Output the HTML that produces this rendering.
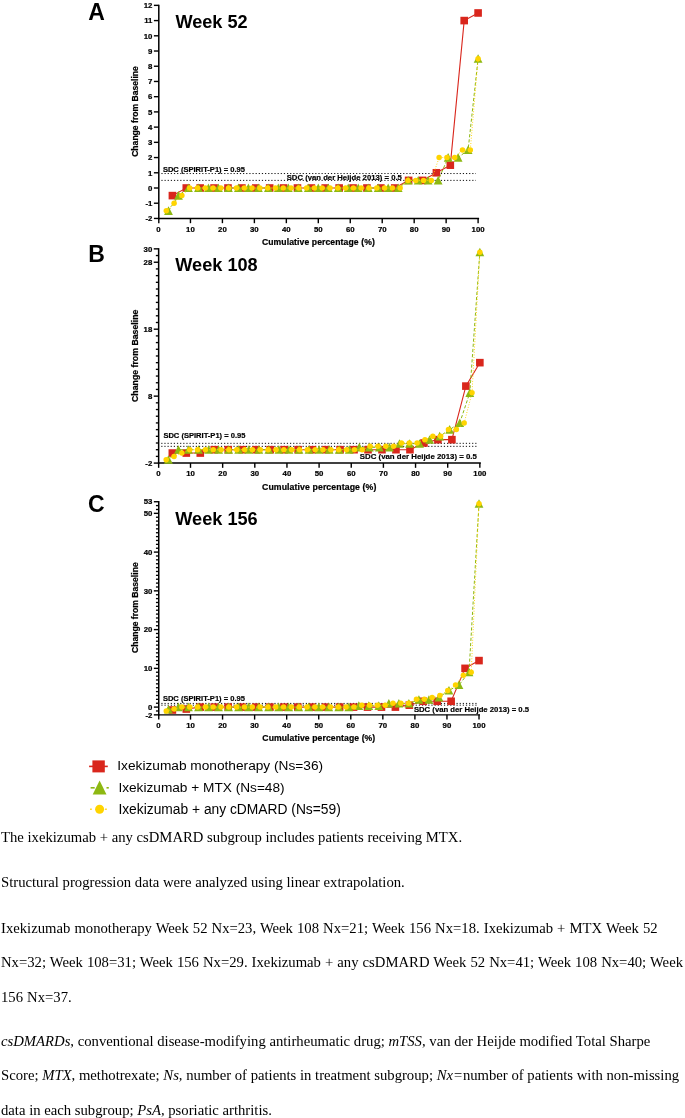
<!DOCTYPE html>
<html><head><meta charset="utf-8"><title>Figure</title>
<style>
html,body{margin:0;padding:0;background:#fff;}
body{will-change:transform;}
body{width:685px;height:1118px;position:relative;overflow:hidden;font-family:"Liberation Serif",serif;color:#000;}
svg{position:absolute;left:0;top:0;}
svg text{font-family:"Liberation Sans",sans-serif;fill:#000;}
.tk{font-size:7.8px;font-weight:bold;stroke:#000;stroke-width:0.22px;}
.xl{font-size:8.6px;font-weight:bold;letter-spacing:0.1px;stroke:#000;stroke-width:0.22px;}
.yl{font-size:8.6px;font-weight:bold;stroke:#000;stroke-width:0.22px;}
.sdc{font-size:7.55px;font-weight:bold;stroke:#000;stroke-width:0.18px;}
.ti{font-size:17.9px;font-weight:bold;}
.lt{font-size:23px;font-weight:bold;}
.lg{font-size:13.6px;}
.p{position:absolute;left:1px;margin:0;font-size:14.7px;line-height:34.4px;white-space:nowrap;}
</style></head><body>
<svg width="685" height="830" viewBox="0 0 685 830">
<line x1="161.4" y1="173.54" x2="475.9" y2="173.54" stroke="#111" stroke-width="1" stroke-dasharray="1.2 1.94"/>
<line x1="161.4" y1="180.39" x2="475.9" y2="180.39" stroke="#111" stroke-width="1" stroke-dasharray="1.2 1.94"/>
<line x1="158.8" y1="4.66" x2="158.8" y2="219.14" stroke="#000" stroke-width="1.5"/>
<line x1="158.05" y1="218.44" x2="479.1" y2="218.44" stroke="#000" stroke-width="1.45"/>
<line x1="153.9" y1="218.44" x2="158.8" y2="218.44" stroke="#000" stroke-width="1.4"/>
<text x="152.4" y="221.19" class="tk" text-anchor="end">-2</text>
<line x1="153.9" y1="203.22" x2="158.8" y2="203.22" stroke="#000" stroke-width="1.4"/>
<text x="152.4" y="205.97" class="tk" text-anchor="end">-1</text>
<line x1="153.9" y1="188" x2="158.8" y2="188" stroke="#000" stroke-width="1.4"/>
<text x="152.4" y="190.75" class="tk" text-anchor="end">0</text>
<line x1="153.9" y1="172.78" x2="158.8" y2="172.78" stroke="#000" stroke-width="1.4"/>
<text x="152.4" y="175.53" class="tk" text-anchor="end">1</text>
<line x1="153.9" y1="157.56" x2="158.8" y2="157.56" stroke="#000" stroke-width="1.4"/>
<text x="152.4" y="160.31" class="tk" text-anchor="end">2</text>
<line x1="153.9" y1="142.34" x2="158.8" y2="142.34" stroke="#000" stroke-width="1.4"/>
<text x="152.4" y="145.09" class="tk" text-anchor="end">3</text>
<line x1="153.9" y1="127.12" x2="158.8" y2="127.12" stroke="#000" stroke-width="1.4"/>
<text x="152.4" y="129.87" class="tk" text-anchor="end">4</text>
<line x1="153.9" y1="111.9" x2="158.8" y2="111.9" stroke="#000" stroke-width="1.4"/>
<text x="152.4" y="114.65" class="tk" text-anchor="end">5</text>
<line x1="153.9" y1="96.68" x2="158.8" y2="96.68" stroke="#000" stroke-width="1.4"/>
<text x="152.4" y="99.43" class="tk" text-anchor="end">6</text>
<line x1="153.9" y1="81.46" x2="158.8" y2="81.46" stroke="#000" stroke-width="1.4"/>
<text x="152.4" y="84.21" class="tk" text-anchor="end">7</text>
<line x1="153.9" y1="66.24" x2="158.8" y2="66.24" stroke="#000" stroke-width="1.4"/>
<text x="152.4" y="68.99" class="tk" text-anchor="end">8</text>
<line x1="153.9" y1="51.02" x2="158.8" y2="51.02" stroke="#000" stroke-width="1.4"/>
<text x="152.4" y="53.77" class="tk" text-anchor="end">9</text>
<line x1="153.9" y1="35.8" x2="158.8" y2="35.8" stroke="#000" stroke-width="1.4"/>
<text x="152.4" y="38.55" class="tk" text-anchor="end">10</text>
<line x1="153.9" y1="20.58" x2="158.8" y2="20.58" stroke="#000" stroke-width="1.4"/>
<text x="152.4" y="23.33" class="tk" text-anchor="end">11</text>
<line x1="153.9" y1="5.36" x2="158.8" y2="5.36" stroke="#000" stroke-width="1.4"/>
<text x="152.4" y="8.11" class="tk" text-anchor="end">12</text>
<line x1="158.8" y1="218.44" x2="158.8" y2="223.19" stroke="#000" stroke-width="1.4"/>
<text x="158.5" y="231.84" class="tk" text-anchor="middle">0</text>
<line x1="190.46" y1="218.44" x2="190.46" y2="223.19" stroke="#000" stroke-width="1.4"/>
<text x="190.46" y="231.84" class="tk" text-anchor="middle">10</text>
<line x1="222.42" y1="218.44" x2="222.42" y2="223.19" stroke="#000" stroke-width="1.4"/>
<text x="222.42" y="231.84" class="tk" text-anchor="middle">20</text>
<line x1="254.38" y1="218.44" x2="254.38" y2="223.19" stroke="#000" stroke-width="1.4"/>
<text x="254.38" y="231.84" class="tk" text-anchor="middle">30</text>
<line x1="286.34" y1="218.44" x2="286.34" y2="223.19" stroke="#000" stroke-width="1.4"/>
<text x="286.34" y="231.84" class="tk" text-anchor="middle">40</text>
<line x1="318.3" y1="218.44" x2="318.3" y2="223.19" stroke="#000" stroke-width="1.4"/>
<text x="318.3" y="231.84" class="tk" text-anchor="middle">50</text>
<line x1="350.26" y1="218.44" x2="350.26" y2="223.19" stroke="#000" stroke-width="1.4"/>
<text x="350.26" y="231.84" class="tk" text-anchor="middle">60</text>
<line x1="382.22" y1="218.44" x2="382.22" y2="223.19" stroke="#000" stroke-width="1.4"/>
<text x="382.22" y="231.84" class="tk" text-anchor="middle">70</text>
<line x1="414.18" y1="218.44" x2="414.18" y2="223.19" stroke="#000" stroke-width="1.4"/>
<text x="414.18" y="231.84" class="tk" text-anchor="middle">80</text>
<line x1="446.14" y1="218.44" x2="446.14" y2="223.19" stroke="#000" stroke-width="1.4"/>
<text x="446.14" y="231.84" class="tk" text-anchor="middle">90</text>
<line x1="478.1" y1="218.44" x2="478.1" y2="223.19" stroke="#000" stroke-width="1.4"/>
<text x="478.1" y="231.84" class="tk" text-anchor="middle">100</text>
<text x="318.4" y="244.94" class="xl" style="font-size:8.62px" text-anchor="middle">Cumulative percentage (%)</text>
<text transform="translate(138.4 111.5) rotate(-90)" class="yl" style="font-size:8.6px" text-anchor="middle">Change from Baseline</text>
<text x="162.9" y="172" class="sdc">SDC (SPIRIT-P1) = 0.95</text>
<text x="286.7" y="180.4" class="sdc" style="font-size:7.72px">SDC (van der Heijde 2013) = 0.5</text>
<polyline points="172.4,195.61 186.29,188 200.19,188 214.08,188 227.98,188 241.87,188 255.77,188 269.67,188 283.56,188 297.46,188 311.35,188 325.25,188 339.14,188 353.04,188 366.93,188 380.83,188 394.73,188 408.62,180.39 422.52,180.39 436.41,172.78 450.31,165.17 464.2,20.58 478.1,12.97" fill="none" stroke="#d9261c" stroke-width="1.1"/>
<rect x="168.6" y="191.81" width="7.6" height="7.6" fill="#d9261c"/>
<rect x="182.49" y="184.2" width="7.6" height="7.6" fill="#d9261c"/>
<rect x="196.39" y="184.2" width="7.6" height="7.6" fill="#d9261c"/>
<rect x="210.28" y="184.2" width="7.6" height="7.6" fill="#d9261c"/>
<rect x="224.18" y="184.2" width="7.6" height="7.6" fill="#d9261c"/>
<rect x="238.07" y="184.2" width="7.6" height="7.6" fill="#d9261c"/>
<rect x="251.97" y="184.2" width="7.6" height="7.6" fill="#d9261c"/>
<rect x="265.87" y="184.2" width="7.6" height="7.6" fill="#d9261c"/>
<rect x="279.76" y="184.2" width="7.6" height="7.6" fill="#d9261c"/>
<rect x="293.66" y="184.2" width="7.6" height="7.6" fill="#d9261c"/>
<rect x="307.55" y="184.2" width="7.6" height="7.6" fill="#d9261c"/>
<rect x="321.45" y="184.2" width="7.6" height="7.6" fill="#d9261c"/>
<rect x="335.34" y="184.2" width="7.6" height="7.6" fill="#d9261c"/>
<rect x="349.24" y="184.2" width="7.6" height="7.6" fill="#d9261c"/>
<rect x="363.13" y="184.2" width="7.6" height="7.6" fill="#d9261c"/>
<rect x="377.03" y="184.2" width="7.6" height="7.6" fill="#d9261c"/>
<rect x="390.93" y="184.2" width="7.6" height="7.6" fill="#d9261c"/>
<rect x="404.82" y="176.59" width="7.6" height="7.6" fill="#d9261c"/>
<rect x="418.72" y="176.59" width="7.6" height="7.6" fill="#d9261c"/>
<rect x="432.61" y="168.98" width="7.6" height="7.6" fill="#d9261c"/>
<rect x="446.51" y="161.37" width="7.6" height="7.6" fill="#d9261c"/>
<rect x="460.4" y="16.78" width="7.6" height="7.6" fill="#d9261c"/>
<rect x="474.3" y="9.17" width="7.6" height="7.6" fill="#d9261c"/>
<polyline points="168.49,210.83 178.47,195.61 188.46,188 198.45,188 208.44,188 218.43,188 228.41,188 238.4,188 248.39,188 258.38,188 268.36,188 278.35,188 288.34,188 298.33,188 308.31,188 318.3,188 328.29,188 338.27,188 348.26,188 358.25,188 368.24,188 378.23,188 388.21,188 398.2,188 408.19,180.39 418.18,180.39 428.16,180.39 438.15,180.39 448.14,157.56 458.12,157.56 468.11,149.95 478.1,58.63" fill="none" stroke="#8db812" stroke-width="1" stroke-dasharray="3.2 2"/>
<path d="M168.49 206.33L172.89 214.93L164.09 214.93Z" fill="#8db812"/>
<path d="M178.47 191.11L182.88 199.71L174.07 199.71Z" fill="#8db812"/>
<path d="M188.46 183.5L192.86 192.1L184.06 192.1Z" fill="#8db812"/>
<path d="M198.45 183.5L202.85 192.1L194.05 192.1Z" fill="#8db812"/>
<path d="M208.44 183.5L212.84 192.1L204.04 192.1Z" fill="#8db812"/>
<path d="M218.43 183.5L222.83 192.1L214.03 192.1Z" fill="#8db812"/>
<path d="M228.41 183.5L232.81 192.1L224.01 192.1Z" fill="#8db812"/>
<path d="M238.4 183.5L242.8 192.1L234 192.1Z" fill="#8db812"/>
<path d="M248.39 183.5L252.79 192.1L243.99 192.1Z" fill="#8db812"/>
<path d="M258.38 183.5L262.77 192.1L253.97 192.1Z" fill="#8db812"/>
<path d="M268.36 183.5L272.76 192.1L263.96 192.1Z" fill="#8db812"/>
<path d="M278.35 183.5L282.75 192.1L273.95 192.1Z" fill="#8db812"/>
<path d="M288.34 183.5L292.74 192.1L283.94 192.1Z" fill="#8db812"/>
<path d="M298.33 183.5L302.73 192.1L293.93 192.1Z" fill="#8db812"/>
<path d="M308.31 183.5L312.71 192.1L303.91 192.1Z" fill="#8db812"/>
<path d="M318.3 183.5L322.7 192.1L313.9 192.1Z" fill="#8db812"/>
<path d="M328.29 183.5L332.69 192.1L323.89 192.1Z" fill="#8db812"/>
<path d="M338.27 183.5L342.67 192.1L333.88 192.1Z" fill="#8db812"/>
<path d="M348.26 183.5L352.66 192.1L343.86 192.1Z" fill="#8db812"/>
<path d="M358.25 183.5L362.65 192.1L353.85 192.1Z" fill="#8db812"/>
<path d="M368.24 183.5L372.64 192.1L363.84 192.1Z" fill="#8db812"/>
<path d="M378.23 183.5L382.62 192.1L373.83 192.1Z" fill="#8db812"/>
<path d="M388.21 183.5L392.61 192.1L383.81 192.1Z" fill="#8db812"/>
<path d="M398.2 183.5L402.6 192.1L393.8 192.1Z" fill="#8db812"/>
<path d="M408.19 175.89L412.59 184.49L403.79 184.49Z" fill="#8db812"/>
<path d="M418.18 175.89L422.57 184.49L413.78 184.49Z" fill="#8db812"/>
<path d="M428.16 175.89L432.56 184.49L423.76 184.49Z" fill="#8db812"/>
<path d="M438.15 175.89L442.55 184.49L433.75 184.49Z" fill="#8db812"/>
<path d="M448.14 153.06L452.54 161.66L443.74 161.66Z" fill="#8db812"/>
<path d="M458.12 153.06L462.52 161.66L453.73 161.66Z" fill="#8db812"/>
<path d="M468.11 145.45L472.51 154.05L463.71 154.05Z" fill="#8db812"/>
<path d="M478.1 54.13L482.5 62.73L473.7 62.73Z" fill="#8db812"/>
<polyline points="166.3,210.83 174.09,203.22 181.89,195.61 189.68,188 197.48,188 205.27,188 213.07,188 220.86,188 228.66,188 236.45,188 244.25,188 252.04,188 259.84,188 267.63,188 275.43,188 283.22,188 291.02,188 298.81,188 306.61,188 314.4,188 322.2,188 329.99,188 337.79,188 345.58,188 353.38,188 361.17,188 368.97,188 376.76,188 384.56,188 392.35,188 400.15,188 407.94,180.39 415.74,180.39 423.53,180.39 431.33,180.39 439.12,157.56 446.92,157.56 454.71,157.56 462.51,149.95 470.3,149.95 478.1,58.63" fill="none" stroke="#ffd400" stroke-width="0.95" stroke-dasharray="0.95 1.7"/>
<circle cx="166.3" cy="210.83" r="2.75" fill="#ffd400"/>
<circle cx="174.09" cy="203.22" r="2.75" fill="#ffd400"/>
<circle cx="181.89" cy="195.61" r="2.75" fill="#ffd400"/>
<circle cx="189.68" cy="188" r="2.75" fill="#ffd400"/>
<circle cx="197.48" cy="188" r="2.75" fill="#ffd400"/>
<circle cx="205.27" cy="188" r="2.75" fill="#ffd400"/>
<circle cx="213.07" cy="188" r="2.75" fill="#ffd400"/>
<circle cx="220.86" cy="188" r="2.75" fill="#ffd400"/>
<circle cx="228.66" cy="188" r="2.75" fill="#ffd400"/>
<circle cx="236.45" cy="188" r="2.75" fill="#ffd400"/>
<circle cx="244.25" cy="188" r="2.75" fill="#ffd400"/>
<circle cx="252.04" cy="188" r="2.75" fill="#ffd400"/>
<circle cx="259.84" cy="188" r="2.75" fill="#ffd400"/>
<circle cx="267.63" cy="188" r="2.75" fill="#ffd400"/>
<circle cx="275.43" cy="188" r="2.75" fill="#ffd400"/>
<circle cx="283.22" cy="188" r="2.75" fill="#ffd400"/>
<circle cx="291.02" cy="188" r="2.75" fill="#ffd400"/>
<circle cx="298.81" cy="188" r="2.75" fill="#ffd400"/>
<circle cx="306.61" cy="188" r="2.75" fill="#ffd400"/>
<circle cx="314.4" cy="188" r="2.75" fill="#ffd400"/>
<circle cx="322.2" cy="188" r="2.75" fill="#ffd400"/>
<circle cx="329.99" cy="188" r="2.75" fill="#ffd400"/>
<circle cx="337.79" cy="188" r="2.75" fill="#ffd400"/>
<circle cx="345.58" cy="188" r="2.75" fill="#ffd400"/>
<circle cx="353.38" cy="188" r="2.75" fill="#ffd400"/>
<circle cx="361.17" cy="188" r="2.75" fill="#ffd400"/>
<circle cx="368.97" cy="188" r="2.75" fill="#ffd400"/>
<circle cx="376.76" cy="188" r="2.75" fill="#ffd400"/>
<circle cx="384.56" cy="188" r="2.75" fill="#ffd400"/>
<circle cx="392.35" cy="188" r="2.75" fill="#ffd400"/>
<circle cx="400.15" cy="188" r="2.75" fill="#ffd400"/>
<circle cx="407.94" cy="180.39" r="2.75" fill="#ffd400"/>
<circle cx="415.74" cy="180.39" r="2.75" fill="#ffd400"/>
<circle cx="423.53" cy="180.39" r="2.75" fill="#ffd400"/>
<circle cx="431.33" cy="180.39" r="2.75" fill="#ffd400"/>
<circle cx="439.12" cy="157.56" r="2.75" fill="#ffd400"/>
<circle cx="446.92" cy="157.56" r="2.75" fill="#ffd400"/>
<circle cx="454.71" cy="157.56" r="2.75" fill="#ffd400"/>
<circle cx="462.51" cy="149.95" r="2.75" fill="#ffd400"/>
<circle cx="470.3" cy="149.95" r="2.75" fill="#ffd400"/>
<circle cx="478.1" cy="58.63" r="2.75" fill="#ffd400"/>
<text x="175.4" y="27.8" class="ti" style="font-size:18.15px">Week 52</text>
<text x="88.2" y="20" class="lt">A</text>
<line x1="161.25" y1="443.34" x2="477.65" y2="443.34" stroke="#111" stroke-width="1" stroke-dasharray="1.2 1.94"/>
<line x1="161.25" y1="446.35" x2="477.65" y2="446.35" stroke="#111" stroke-width="1" stroke-dasharray="1.2 1.94"/>
<line x1="158.65" y1="248.15" x2="158.65" y2="463.79" stroke="#000" stroke-width="1.5"/>
<line x1="157.9" y1="463.09" x2="480.85" y2="463.09" stroke="#000" stroke-width="1.45"/>
<line x1="155.85" y1="456.39" x2="158.65" y2="456.39" stroke="#000" stroke-width="1.35"/>
<line x1="155.85" y1="449.7" x2="158.65" y2="449.7" stroke="#000" stroke-width="1.35"/>
<line x1="155.85" y1="443" x2="158.65" y2="443" stroke="#000" stroke-width="1.35"/>
<line x1="155.85" y1="436.31" x2="158.65" y2="436.31" stroke="#000" stroke-width="1.35"/>
<line x1="155.85" y1="429.62" x2="158.65" y2="429.62" stroke="#000" stroke-width="1.35"/>
<line x1="155.85" y1="422.92" x2="158.65" y2="422.92" stroke="#000" stroke-width="1.35"/>
<line x1="155.85" y1="416.22" x2="158.65" y2="416.22" stroke="#000" stroke-width="1.35"/>
<line x1="155.85" y1="409.53" x2="158.65" y2="409.53" stroke="#000" stroke-width="1.35"/>
<line x1="155.85" y1="402.83" x2="158.65" y2="402.83" stroke="#000" stroke-width="1.35"/>
<line x1="155.85" y1="389.44" x2="158.65" y2="389.44" stroke="#000" stroke-width="1.35"/>
<line x1="155.85" y1="382.75" x2="158.65" y2="382.75" stroke="#000" stroke-width="1.35"/>
<line x1="155.85" y1="376.05" x2="158.65" y2="376.05" stroke="#000" stroke-width="1.35"/>
<line x1="155.85" y1="369.36" x2="158.65" y2="369.36" stroke="#000" stroke-width="1.35"/>
<line x1="155.85" y1="362.66" x2="158.65" y2="362.66" stroke="#000" stroke-width="1.35"/>
<line x1="155.85" y1="355.97" x2="158.65" y2="355.97" stroke="#000" stroke-width="1.35"/>
<line x1="155.85" y1="349.27" x2="158.65" y2="349.27" stroke="#000" stroke-width="1.35"/>
<line x1="155.85" y1="342.58" x2="158.65" y2="342.58" stroke="#000" stroke-width="1.35"/>
<line x1="155.85" y1="335.88" x2="158.65" y2="335.88" stroke="#000" stroke-width="1.35"/>
<line x1="155.85" y1="322.5" x2="158.65" y2="322.5" stroke="#000" stroke-width="1.35"/>
<line x1="155.85" y1="315.8" x2="158.65" y2="315.8" stroke="#000" stroke-width="1.35"/>
<line x1="155.85" y1="309.11" x2="158.65" y2="309.11" stroke="#000" stroke-width="1.35"/>
<line x1="155.85" y1="302.41" x2="158.65" y2="302.41" stroke="#000" stroke-width="1.35"/>
<line x1="155.85" y1="295.71" x2="158.65" y2="295.71" stroke="#000" stroke-width="1.35"/>
<line x1="155.85" y1="289.02" x2="158.65" y2="289.02" stroke="#000" stroke-width="1.35"/>
<line x1="155.85" y1="282.32" x2="158.65" y2="282.32" stroke="#000" stroke-width="1.35"/>
<line x1="155.85" y1="275.63" x2="158.65" y2="275.63" stroke="#000" stroke-width="1.35"/>
<line x1="155.85" y1="268.93" x2="158.65" y2="268.93" stroke="#000" stroke-width="1.35"/>
<line x1="155.85" y1="255.54" x2="158.65" y2="255.54" stroke="#000" stroke-width="1.35"/>
<line x1="153.75" y1="463.09" x2="158.65" y2="463.09" stroke="#000" stroke-width="1.4"/>
<text x="152.25" y="465.84" class="tk" text-anchor="end">-2</text>
<line x1="153.75" y1="396.14" x2="158.65" y2="396.14" stroke="#000" stroke-width="1.4"/>
<text x="152.25" y="398.89" class="tk" text-anchor="end">8</text>
<line x1="153.75" y1="329.19" x2="158.65" y2="329.19" stroke="#000" stroke-width="1.4"/>
<text x="152.25" y="331.94" class="tk" text-anchor="end">18</text>
<line x1="153.75" y1="262.24" x2="158.65" y2="262.24" stroke="#000" stroke-width="1.4"/>
<text x="152.25" y="264.99" class="tk" text-anchor="end">28</text>
<line x1="153.75" y1="248.85" x2="158.65" y2="248.85" stroke="#000" stroke-width="1.4"/>
<text x="152.25" y="251.6" class="tk" text-anchor="end">30</text>
<line x1="158.65" y1="463.09" x2="158.65" y2="467.84" stroke="#000" stroke-width="1.4"/>
<text x="158.35" y="476.49" class="tk" text-anchor="middle">0</text>
<line x1="190.5" y1="463.09" x2="190.5" y2="467.84" stroke="#000" stroke-width="1.4"/>
<text x="190.5" y="476.49" class="tk" text-anchor="middle">10</text>
<line x1="222.65" y1="463.09" x2="222.65" y2="467.84" stroke="#000" stroke-width="1.4"/>
<text x="222.65" y="476.49" class="tk" text-anchor="middle">20</text>
<line x1="254.8" y1="463.09" x2="254.8" y2="467.84" stroke="#000" stroke-width="1.4"/>
<text x="254.8" y="476.49" class="tk" text-anchor="middle">30</text>
<line x1="286.95" y1="463.09" x2="286.95" y2="467.84" stroke="#000" stroke-width="1.4"/>
<text x="286.95" y="476.49" class="tk" text-anchor="middle">40</text>
<line x1="319.1" y1="463.09" x2="319.1" y2="467.84" stroke="#000" stroke-width="1.4"/>
<text x="319.1" y="476.49" class="tk" text-anchor="middle">50</text>
<line x1="351.25" y1="463.09" x2="351.25" y2="467.84" stroke="#000" stroke-width="1.4"/>
<text x="351.25" y="476.49" class="tk" text-anchor="middle">60</text>
<line x1="383.4" y1="463.09" x2="383.4" y2="467.84" stroke="#000" stroke-width="1.4"/>
<text x="383.4" y="476.49" class="tk" text-anchor="middle">70</text>
<line x1="415.55" y1="463.09" x2="415.55" y2="467.84" stroke="#000" stroke-width="1.4"/>
<text x="415.55" y="476.49" class="tk" text-anchor="middle">80</text>
<line x1="447.7" y1="463.09" x2="447.7" y2="467.84" stroke="#000" stroke-width="1.4"/>
<text x="447.7" y="476.49" class="tk" text-anchor="middle">90</text>
<line x1="479.85" y1="463.09" x2="479.85" y2="467.84" stroke="#000" stroke-width="1.4"/>
<text x="479.85" y="476.49" class="tk" text-anchor="middle">100</text>
<text x="319.2" y="489.59" class="xl" style="font-size:8.72px" text-anchor="middle">Cumulative percentage (%)</text>
<text transform="translate(138.4 355.8) rotate(-90)" class="yl" style="font-size:8.75px" text-anchor="middle">Change from Baseline</text>
<text x="163.4" y="438.2" class="sdc">SDC (SPIRIT-P1) = 0.95</text>
<text x="359.8" y="459" class="sdc" style="font-size:7.85px">SDC (van der Heijde 2013) = 0.5</text>
<polyline points="172.33,453.05 186.31,453.05 200.28,453.05 214.26,449.7 228.24,449.7 242.22,449.7 256.2,449.7 270.18,449.7 284.15,449.7 298.13,449.7 312.11,449.7 326.09,449.7 340.07,449.7 354.05,449.7 368.02,449.7 382,449.7 395.98,449.7 409.96,449.7 423.94,443 437.92,439.66 451.89,439.66 465.87,386.1 479.85,362.66" fill="none" stroke="#d9261c" stroke-width="1.1"/>
<rect x="168.53" y="449.25" width="7.6" height="7.6" fill="#d9261c"/>
<rect x="182.51" y="449.25" width="7.6" height="7.6" fill="#d9261c"/>
<rect x="196.48" y="449.25" width="7.6" height="7.6" fill="#d9261c"/>
<rect x="210.46" y="445.9" width="7.6" height="7.6" fill="#d9261c"/>
<rect x="224.44" y="445.9" width="7.6" height="7.6" fill="#d9261c"/>
<rect x="238.42" y="445.9" width="7.6" height="7.6" fill="#d9261c"/>
<rect x="252.4" y="445.9" width="7.6" height="7.6" fill="#d9261c"/>
<rect x="266.38" y="445.9" width="7.6" height="7.6" fill="#d9261c"/>
<rect x="280.35" y="445.9" width="7.6" height="7.6" fill="#d9261c"/>
<rect x="294.33" y="445.9" width="7.6" height="7.6" fill="#d9261c"/>
<rect x="308.31" y="445.9" width="7.6" height="7.6" fill="#d9261c"/>
<rect x="322.29" y="445.9" width="7.6" height="7.6" fill="#d9261c"/>
<rect x="336.27" y="445.9" width="7.6" height="7.6" fill="#d9261c"/>
<rect x="350.25" y="445.9" width="7.6" height="7.6" fill="#d9261c"/>
<rect x="364.22" y="445.9" width="7.6" height="7.6" fill="#d9261c"/>
<rect x="378.2" y="445.9" width="7.6" height="7.6" fill="#d9261c"/>
<rect x="392.18" y="445.9" width="7.6" height="7.6" fill="#d9261c"/>
<rect x="406.16" y="445.9" width="7.6" height="7.6" fill="#d9261c"/>
<rect x="420.14" y="439.2" width="7.6" height="7.6" fill="#d9261c"/>
<rect x="434.12" y="435.86" width="7.6" height="7.6" fill="#d9261c"/>
<rect x="448.09" y="435.86" width="7.6" height="7.6" fill="#d9261c"/>
<rect x="462.07" y="382.3" width="7.6" height="7.6" fill="#d9261c"/>
<rect x="476.05" y="358.86" width="7.6" height="7.6" fill="#d9261c"/>
<polyline points="168.4,459.74 178.44,449.7 188.49,449.7 198.54,449.7 208.58,449.7 218.63,449.7 228.68,449.7 238.72,449.7 248.77,449.7 258.82,449.7 268.87,449.7 278.91,449.7 288.96,449.7 299.01,449.7 309.05,449.7 319.1,449.7 329.15,449.7 339.19,449.7 349.24,449.7 359.29,447.36 369.33,447.36 379.38,447.36 389.43,447.36 399.48,443.67 409.52,443.67 419.57,443.67 429.62,439.66 439.66,436.31 449.71,429.62 459.76,422.92 469.8,392.79 479.85,252.2" fill="none" stroke="#8db812" stroke-width="1" stroke-dasharray="3.2 2"/>
<path d="M168.4 455.24L172.8 463.84L164 463.84Z" fill="#8db812"/>
<path d="M178.44 445.2L182.84 453.8L174.04 453.8Z" fill="#8db812"/>
<path d="M188.49 445.2L192.89 453.8L184.09 453.8Z" fill="#8db812"/>
<path d="M198.54 445.2L202.94 453.8L194.14 453.8Z" fill="#8db812"/>
<path d="M208.58 445.2L212.98 453.8L204.18 453.8Z" fill="#8db812"/>
<path d="M218.63 445.2L223.03 453.8L214.23 453.8Z" fill="#8db812"/>
<path d="M228.68 445.2L233.08 453.8L224.28 453.8Z" fill="#8db812"/>
<path d="M238.72 445.2L243.12 453.8L234.32 453.8Z" fill="#8db812"/>
<path d="M248.77 445.2L253.17 453.8L244.37 453.8Z" fill="#8db812"/>
<path d="M258.82 445.2L263.22 453.8L254.42 453.8Z" fill="#8db812"/>
<path d="M268.87 445.2L273.27 453.8L264.47 453.8Z" fill="#8db812"/>
<path d="M278.91 445.2L283.31 453.8L274.51 453.8Z" fill="#8db812"/>
<path d="M288.96 445.2L293.36 453.8L284.56 453.8Z" fill="#8db812"/>
<path d="M299.01 445.2L303.41 453.8L294.61 453.8Z" fill="#8db812"/>
<path d="M309.05 445.2L313.45 453.8L304.65 453.8Z" fill="#8db812"/>
<path d="M319.1 445.2L323.5 453.8L314.7 453.8Z" fill="#8db812"/>
<path d="M329.15 445.2L333.55 453.8L324.75 453.8Z" fill="#8db812"/>
<path d="M339.19 445.2L343.59 453.8L334.79 453.8Z" fill="#8db812"/>
<path d="M349.24 445.2L353.64 453.8L344.84 453.8Z" fill="#8db812"/>
<path d="M359.29 442.86L363.69 451.46L354.89 451.46Z" fill="#8db812"/>
<path d="M369.33 442.86L373.73 451.46L364.93 451.46Z" fill="#8db812"/>
<path d="M379.38 442.86L383.78 451.46L374.98 451.46Z" fill="#8db812"/>
<path d="M389.43 442.86L393.83 451.46L385.03 451.46Z" fill="#8db812"/>
<path d="M399.48 439.17L403.88 447.77L395.08 447.77Z" fill="#8db812"/>
<path d="M409.52 439.17L413.92 447.77L405.12 447.77Z" fill="#8db812"/>
<path d="M419.57 439.17L423.97 447.77L415.17 447.77Z" fill="#8db812"/>
<path d="M429.62 435.16L434.02 443.76L425.22 443.76Z" fill="#8db812"/>
<path d="M439.66 431.81L444.06 440.41L435.26 440.41Z" fill="#8db812"/>
<path d="M449.71 425.12L454.11 433.72L445.31 433.72Z" fill="#8db812"/>
<path d="M459.76 418.42L464.16 427.02L455.36 427.02Z" fill="#8db812"/>
<path d="M469.8 388.29L474.2 396.89L465.4 396.89Z" fill="#8db812"/>
<path d="M479.85 247.7L484.25 256.3L475.45 256.3Z" fill="#8db812"/>
<polyline points="166.19,459.74 174.03,456.39 181.87,453.05 189.72,449.7 197.56,449.7 205.4,449.7 213.24,449.7 221.08,449.7 228.92,449.7 236.76,449.7 244.61,449.7 252.45,449.7 260.29,449.7 268.13,449.7 275.97,449.7 283.81,449.7 291.65,449.7 299.5,449.7 307.34,449.7 315.18,449.7 323.02,449.7 330.86,449.7 338.7,449.7 346.55,449.7 354.39,449.7 362.23,449.7 370.07,446.35 377.91,446.35 385.75,446.35 393.59,446.35 401.44,443 409.28,443 417.12,443 424.96,439.66 432.8,436.31 440.64,436.31 448.48,429.62 456.33,429.62 464.17,422.92 472.01,392.79 479.85,252.2" fill="none" stroke="#ffd400" stroke-width="0.95" stroke-dasharray="0.95 1.7"/>
<circle cx="166.19" cy="459.74" r="2.75" fill="#ffd400"/>
<circle cx="174.03" cy="456.39" r="2.75" fill="#ffd400"/>
<circle cx="181.87" cy="453.05" r="2.75" fill="#ffd400"/>
<circle cx="189.72" cy="449.7" r="2.75" fill="#ffd400"/>
<circle cx="197.56" cy="449.7" r="2.75" fill="#ffd400"/>
<circle cx="205.4" cy="449.7" r="2.75" fill="#ffd400"/>
<circle cx="213.24" cy="449.7" r="2.75" fill="#ffd400"/>
<circle cx="221.08" cy="449.7" r="2.75" fill="#ffd400"/>
<circle cx="228.92" cy="449.7" r="2.75" fill="#ffd400"/>
<circle cx="236.76" cy="449.7" r="2.75" fill="#ffd400"/>
<circle cx="244.61" cy="449.7" r="2.75" fill="#ffd400"/>
<circle cx="252.45" cy="449.7" r="2.75" fill="#ffd400"/>
<circle cx="260.29" cy="449.7" r="2.75" fill="#ffd400"/>
<circle cx="268.13" cy="449.7" r="2.75" fill="#ffd400"/>
<circle cx="275.97" cy="449.7" r="2.75" fill="#ffd400"/>
<circle cx="283.81" cy="449.7" r="2.75" fill="#ffd400"/>
<circle cx="291.65" cy="449.7" r="2.75" fill="#ffd400"/>
<circle cx="299.5" cy="449.7" r="2.75" fill="#ffd400"/>
<circle cx="307.34" cy="449.7" r="2.75" fill="#ffd400"/>
<circle cx="315.18" cy="449.7" r="2.75" fill="#ffd400"/>
<circle cx="323.02" cy="449.7" r="2.75" fill="#ffd400"/>
<circle cx="330.86" cy="449.7" r="2.75" fill="#ffd400"/>
<circle cx="338.7" cy="449.7" r="2.75" fill="#ffd400"/>
<circle cx="346.55" cy="449.7" r="2.75" fill="#ffd400"/>
<circle cx="354.39" cy="449.7" r="2.75" fill="#ffd400"/>
<circle cx="362.23" cy="449.7" r="2.75" fill="#ffd400"/>
<circle cx="370.07" cy="446.35" r="2.75" fill="#ffd400"/>
<circle cx="377.91" cy="446.35" r="2.75" fill="#ffd400"/>
<circle cx="385.75" cy="446.35" r="2.75" fill="#ffd400"/>
<circle cx="393.59" cy="446.35" r="2.75" fill="#ffd400"/>
<circle cx="401.44" cy="443" r="2.75" fill="#ffd400"/>
<circle cx="409.28" cy="443" r="2.75" fill="#ffd400"/>
<circle cx="417.12" cy="443" r="2.75" fill="#ffd400"/>
<circle cx="424.96" cy="439.66" r="2.75" fill="#ffd400"/>
<circle cx="432.8" cy="436.31" r="2.75" fill="#ffd400"/>
<circle cx="440.64" cy="436.31" r="2.75" fill="#ffd400"/>
<circle cx="448.48" cy="429.62" r="2.75" fill="#ffd400"/>
<circle cx="456.33" cy="429.62" r="2.75" fill="#ffd400"/>
<circle cx="464.17" cy="422.92" r="2.75" fill="#ffd400"/>
<circle cx="472.01" cy="392.79" r="2.75" fill="#ffd400"/>
<circle cx="479.85" cy="252.2" r="2.75" fill="#ffd400"/>
<text x="175.3" y="270.9" class="ti" style="font-size:18.15px">Week 108</text>
<text x="88.2" y="262" class="lt">B</text>
<line x1="161.35" y1="703.42" x2="476.81" y2="703.42" stroke="#111" stroke-width="1" stroke-dasharray="1.2 1.94"/>
<line x1="161.35" y1="705.16" x2="476.81" y2="705.16" stroke="#111" stroke-width="1" stroke-dasharray="1.2 1.94"/>
<line x1="158.75" y1="501.03" x2="158.75" y2="715.55" stroke="#000" stroke-width="1.5"/>
<line x1="158" y1="714.85" x2="480.01" y2="714.85" stroke="#000" stroke-width="1.45"/>
<line x1="155.95" y1="710.98" x2="158.75" y2="710.98" stroke="#000" stroke-width="1.35"/>
<line x1="155.95" y1="703.23" x2="158.75" y2="703.23" stroke="#000" stroke-width="1.35"/>
<line x1="155.95" y1="699.35" x2="158.75" y2="699.35" stroke="#000" stroke-width="1.35"/>
<line x1="155.95" y1="695.48" x2="158.75" y2="695.48" stroke="#000" stroke-width="1.35"/>
<line x1="155.95" y1="691.6" x2="158.75" y2="691.6" stroke="#000" stroke-width="1.35"/>
<line x1="155.95" y1="687.73" x2="158.75" y2="687.73" stroke="#000" stroke-width="1.35"/>
<line x1="155.95" y1="683.85" x2="158.75" y2="683.85" stroke="#000" stroke-width="1.35"/>
<line x1="155.95" y1="679.98" x2="158.75" y2="679.98" stroke="#000" stroke-width="1.35"/>
<line x1="155.95" y1="676.1" x2="158.75" y2="676.1" stroke="#000" stroke-width="1.35"/>
<line x1="155.95" y1="672.23" x2="158.75" y2="672.23" stroke="#000" stroke-width="1.35"/>
<line x1="155.95" y1="664.48" x2="158.75" y2="664.48" stroke="#000" stroke-width="1.35"/>
<line x1="155.95" y1="660.6" x2="158.75" y2="660.6" stroke="#000" stroke-width="1.35"/>
<line x1="155.95" y1="656.73" x2="158.75" y2="656.73" stroke="#000" stroke-width="1.35"/>
<line x1="155.95" y1="652.85" x2="158.75" y2="652.85" stroke="#000" stroke-width="1.35"/>
<line x1="155.95" y1="648.98" x2="158.75" y2="648.98" stroke="#000" stroke-width="1.35"/>
<line x1="155.95" y1="645.1" x2="158.75" y2="645.1" stroke="#000" stroke-width="1.35"/>
<line x1="155.95" y1="641.23" x2="158.75" y2="641.23" stroke="#000" stroke-width="1.35"/>
<line x1="155.95" y1="637.35" x2="158.75" y2="637.35" stroke="#000" stroke-width="1.35"/>
<line x1="155.95" y1="633.48" x2="158.75" y2="633.48" stroke="#000" stroke-width="1.35"/>
<line x1="155.95" y1="625.73" x2="158.75" y2="625.73" stroke="#000" stroke-width="1.35"/>
<line x1="155.95" y1="621.85" x2="158.75" y2="621.85" stroke="#000" stroke-width="1.35"/>
<line x1="155.95" y1="617.98" x2="158.75" y2="617.98" stroke="#000" stroke-width="1.35"/>
<line x1="155.95" y1="614.1" x2="158.75" y2="614.1" stroke="#000" stroke-width="1.35"/>
<line x1="155.95" y1="610.23" x2="158.75" y2="610.23" stroke="#000" stroke-width="1.35"/>
<line x1="155.95" y1="606.35" x2="158.75" y2="606.35" stroke="#000" stroke-width="1.35"/>
<line x1="155.95" y1="602.48" x2="158.75" y2="602.48" stroke="#000" stroke-width="1.35"/>
<line x1="155.95" y1="598.6" x2="158.75" y2="598.6" stroke="#000" stroke-width="1.35"/>
<line x1="155.95" y1="594.73" x2="158.75" y2="594.73" stroke="#000" stroke-width="1.35"/>
<line x1="155.95" y1="586.98" x2="158.75" y2="586.98" stroke="#000" stroke-width="1.35"/>
<line x1="155.95" y1="583.1" x2="158.75" y2="583.1" stroke="#000" stroke-width="1.35"/>
<line x1="155.95" y1="579.23" x2="158.75" y2="579.23" stroke="#000" stroke-width="1.35"/>
<line x1="155.95" y1="575.35" x2="158.75" y2="575.35" stroke="#000" stroke-width="1.35"/>
<line x1="155.95" y1="571.48" x2="158.75" y2="571.48" stroke="#000" stroke-width="1.35"/>
<line x1="155.95" y1="567.6" x2="158.75" y2="567.6" stroke="#000" stroke-width="1.35"/>
<line x1="155.95" y1="563.73" x2="158.75" y2="563.73" stroke="#000" stroke-width="1.35"/>
<line x1="155.95" y1="559.85" x2="158.75" y2="559.85" stroke="#000" stroke-width="1.35"/>
<line x1="155.95" y1="555.98" x2="158.75" y2="555.98" stroke="#000" stroke-width="1.35"/>
<line x1="155.95" y1="548.23" x2="158.75" y2="548.23" stroke="#000" stroke-width="1.35"/>
<line x1="155.95" y1="544.35" x2="158.75" y2="544.35" stroke="#000" stroke-width="1.35"/>
<line x1="155.95" y1="540.48" x2="158.75" y2="540.48" stroke="#000" stroke-width="1.35"/>
<line x1="155.95" y1="536.6" x2="158.75" y2="536.6" stroke="#000" stroke-width="1.35"/>
<line x1="155.95" y1="532.73" x2="158.75" y2="532.73" stroke="#000" stroke-width="1.35"/>
<line x1="155.95" y1="528.85" x2="158.75" y2="528.85" stroke="#000" stroke-width="1.35"/>
<line x1="155.95" y1="524.98" x2="158.75" y2="524.98" stroke="#000" stroke-width="1.35"/>
<line x1="155.95" y1="521.1" x2="158.75" y2="521.1" stroke="#000" stroke-width="1.35"/>
<line x1="155.95" y1="517.23" x2="158.75" y2="517.23" stroke="#000" stroke-width="1.35"/>
<line x1="155.95" y1="509.48" x2="158.75" y2="509.48" stroke="#000" stroke-width="1.35"/>
<line x1="155.95" y1="505.6" x2="158.75" y2="505.6" stroke="#000" stroke-width="1.35"/>
<line x1="153.85" y1="714.85" x2="158.75" y2="714.85" stroke="#000" stroke-width="1.4"/>
<text x="152.35" y="717.6" class="tk" text-anchor="end">-2</text>
<line x1="153.85" y1="707.1" x2="158.75" y2="707.1" stroke="#000" stroke-width="1.4"/>
<text x="152.35" y="709.85" class="tk" text-anchor="end">0</text>
<line x1="153.85" y1="668.35" x2="158.75" y2="668.35" stroke="#000" stroke-width="1.4"/>
<text x="152.35" y="671.1" class="tk" text-anchor="end">10</text>
<line x1="153.85" y1="629.6" x2="158.75" y2="629.6" stroke="#000" stroke-width="1.4"/>
<text x="152.35" y="632.35" class="tk" text-anchor="end">20</text>
<line x1="153.85" y1="590.85" x2="158.75" y2="590.85" stroke="#000" stroke-width="1.4"/>
<text x="152.35" y="593.6" class="tk" text-anchor="end">30</text>
<line x1="153.85" y1="552.1" x2="158.75" y2="552.1" stroke="#000" stroke-width="1.4"/>
<text x="152.35" y="554.85" class="tk" text-anchor="end">40</text>
<line x1="153.85" y1="513.35" x2="158.75" y2="513.35" stroke="#000" stroke-width="1.4"/>
<text x="152.35" y="516.1" class="tk" text-anchor="end">50</text>
<line x1="153.85" y1="501.73" x2="158.75" y2="501.73" stroke="#000" stroke-width="1.4"/>
<text x="152.35" y="504.48" class="tk" text-anchor="end">53</text>
<line x1="158.75" y1="714.85" x2="158.75" y2="719.6" stroke="#000" stroke-width="1.4"/>
<text x="158.45" y="728.25" class="tk" text-anchor="middle">0</text>
<line x1="190.51" y1="714.85" x2="190.51" y2="719.6" stroke="#000" stroke-width="1.4"/>
<text x="190.51" y="728.25" class="tk" text-anchor="middle">10</text>
<line x1="222.56" y1="714.85" x2="222.56" y2="719.6" stroke="#000" stroke-width="1.4"/>
<text x="222.56" y="728.25" class="tk" text-anchor="middle">20</text>
<line x1="254.62" y1="714.85" x2="254.62" y2="719.6" stroke="#000" stroke-width="1.4"/>
<text x="254.62" y="728.25" class="tk" text-anchor="middle">30</text>
<line x1="286.67" y1="714.85" x2="286.67" y2="719.6" stroke="#000" stroke-width="1.4"/>
<text x="286.67" y="728.25" class="tk" text-anchor="middle">40</text>
<line x1="318.73" y1="714.85" x2="318.73" y2="719.6" stroke="#000" stroke-width="1.4"/>
<text x="318.73" y="728.25" class="tk" text-anchor="middle">50</text>
<line x1="350.79" y1="714.85" x2="350.79" y2="719.6" stroke="#000" stroke-width="1.4"/>
<text x="350.79" y="728.25" class="tk" text-anchor="middle">60</text>
<line x1="382.84" y1="714.85" x2="382.84" y2="719.6" stroke="#000" stroke-width="1.4"/>
<text x="382.84" y="728.25" class="tk" text-anchor="middle">70</text>
<line x1="414.9" y1="714.85" x2="414.9" y2="719.6" stroke="#000" stroke-width="1.4"/>
<text x="414.9" y="728.25" class="tk" text-anchor="middle">80</text>
<line x1="446.95" y1="714.85" x2="446.95" y2="719.6" stroke="#000" stroke-width="1.4"/>
<text x="446.95" y="728.25" class="tk" text-anchor="middle">90</text>
<line x1="479.01" y1="714.85" x2="479.01" y2="719.6" stroke="#000" stroke-width="1.4"/>
<text x="479.01" y="728.25" class="tk" text-anchor="middle">100</text>
<text x="318.83" y="741.35" class="xl" style="font-size:8.62px" text-anchor="middle">Cumulative percentage (%)</text>
<text transform="translate(138.4 607.7) rotate(-90)" class="yl" style="font-size:8.6px" text-anchor="middle">Change from Baseline</text>
<text x="162.9" y="700.7" class="sdc">SDC (SPIRIT-P1) = 0.95</text>
<text x="413.9" y="712.3" class="sdc" style="font-size:7.72px">SDC (van der Heijde 2013) = 0.5</text>
<polyline points="172.39,710.01 186.32,709.04 200.26,707.1 214.2,707.1 228.14,707.1 242.07,707.1 256.01,707.1 269.95,707.1 283.89,707.1 297.82,707.1 311.76,707.1 325.7,707.1 339.64,707.1 353.57,707.1 367.51,707.1 381.45,707.1 395.39,707.1 409.32,705.16 423.26,701.29 437.2,701.29 451.14,701.29 465.07,668.35 479.01,660.6" fill="none" stroke="#d9261c" stroke-width="1.1"/>
<rect x="168.59" y="706.21" width="7.6" height="7.6" fill="#d9261c"/>
<rect x="182.52" y="705.24" width="7.6" height="7.6" fill="#d9261c"/>
<rect x="196.46" y="703.3" width="7.6" height="7.6" fill="#d9261c"/>
<rect x="210.4" y="703.3" width="7.6" height="7.6" fill="#d9261c"/>
<rect x="224.34" y="703.3" width="7.6" height="7.6" fill="#d9261c"/>
<rect x="238.27" y="703.3" width="7.6" height="7.6" fill="#d9261c"/>
<rect x="252.21" y="703.3" width="7.6" height="7.6" fill="#d9261c"/>
<rect x="266.15" y="703.3" width="7.6" height="7.6" fill="#d9261c"/>
<rect x="280.09" y="703.3" width="7.6" height="7.6" fill="#d9261c"/>
<rect x="294.02" y="703.3" width="7.6" height="7.6" fill="#d9261c"/>
<rect x="307.96" y="703.3" width="7.6" height="7.6" fill="#d9261c"/>
<rect x="321.9" y="703.3" width="7.6" height="7.6" fill="#d9261c"/>
<rect x="335.84" y="703.3" width="7.6" height="7.6" fill="#d9261c"/>
<rect x="349.77" y="703.3" width="7.6" height="7.6" fill="#d9261c"/>
<rect x="363.71" y="703.3" width="7.6" height="7.6" fill="#d9261c"/>
<rect x="377.65" y="703.3" width="7.6" height="7.6" fill="#d9261c"/>
<rect x="391.59" y="703.3" width="7.6" height="7.6" fill="#d9261c"/>
<rect x="405.52" y="701.36" width="7.6" height="7.6" fill="#d9261c"/>
<rect x="419.46" y="697.49" width="7.6" height="7.6" fill="#d9261c"/>
<rect x="433.4" y="697.49" width="7.6" height="7.6" fill="#d9261c"/>
<rect x="447.34" y="697.49" width="7.6" height="7.6" fill="#d9261c"/>
<rect x="461.27" y="664.55" width="7.6" height="7.6" fill="#d9261c"/>
<rect x="475.21" y="656.8" width="7.6" height="7.6" fill="#d9261c"/>
<polyline points="168.47,709.43 178.48,707.1 188.5,707.1 198.52,707.1 208.54,707.1 218.56,707.1 228.57,707.1 238.59,707.1 248.61,707.1 258.62,707.1 268.64,707.1 278.66,707.1 288.68,707.1 298.69,707.1 308.71,707.1 318.73,707.1 328.75,707.1 338.76,707.1 348.78,707.1 358.8,705.82 368.82,705.82 378.83,705.82 388.85,703.5 398.87,703.5 408.89,703.5 418.9,699.74 428.92,699.74 438.94,697.41 448.96,690.44 458.97,685.01 468.99,672.23 479.01,503.66" fill="none" stroke="#8db812" stroke-width="1" stroke-dasharray="3.2 2"/>
<path d="M168.47 704.93L172.87 713.53L164.07 713.53Z" fill="#8db812"/>
<path d="M178.48 702.6L182.88 711.2L174.08 711.2Z" fill="#8db812"/>
<path d="M188.5 702.6L192.9 711.2L184.1 711.2Z" fill="#8db812"/>
<path d="M198.52 702.6L202.92 711.2L194.12 711.2Z" fill="#8db812"/>
<path d="M208.54 702.6L212.94 711.2L204.14 711.2Z" fill="#8db812"/>
<path d="M218.56 702.6L222.96 711.2L214.16 711.2Z" fill="#8db812"/>
<path d="M228.57 702.6L232.97 711.2L224.17 711.2Z" fill="#8db812"/>
<path d="M238.59 702.6L242.99 711.2L234.19 711.2Z" fill="#8db812"/>
<path d="M248.61 702.6L253.01 711.2L244.21 711.2Z" fill="#8db812"/>
<path d="M258.62 702.6L263.02 711.2L254.22 711.2Z" fill="#8db812"/>
<path d="M268.64 702.6L273.04 711.2L264.24 711.2Z" fill="#8db812"/>
<path d="M278.66 702.6L283.06 711.2L274.26 711.2Z" fill="#8db812"/>
<path d="M288.68 702.6L293.08 711.2L284.28 711.2Z" fill="#8db812"/>
<path d="M298.69 702.6L303.09 711.2L294.3 711.2Z" fill="#8db812"/>
<path d="M308.71 702.6L313.11 711.2L304.31 711.2Z" fill="#8db812"/>
<path d="M318.73 702.6L323.13 711.2L314.33 711.2Z" fill="#8db812"/>
<path d="M328.75 702.6L333.15 711.2L324.35 711.2Z" fill="#8db812"/>
<path d="M338.76 702.6L343.16 711.2L334.37 711.2Z" fill="#8db812"/>
<path d="M348.78 702.6L353.18 711.2L344.38 711.2Z" fill="#8db812"/>
<path d="M358.8 701.32L363.2 709.92L354.4 709.92Z" fill="#8db812"/>
<path d="M368.82 701.32L373.22 709.92L364.42 709.92Z" fill="#8db812"/>
<path d="M378.83 701.32L383.23 709.92L374.44 709.92Z" fill="#8db812"/>
<path d="M388.85 699L393.25 707.6L384.45 707.6Z" fill="#8db812"/>
<path d="M398.87 699L403.27 707.6L394.47 707.6Z" fill="#8db812"/>
<path d="M408.89 699L413.29 707.6L404.49 707.6Z" fill="#8db812"/>
<path d="M418.9 695.24L423.3 703.84L414.5 703.84Z" fill="#8db812"/>
<path d="M428.92 695.24L433.32 703.84L424.52 703.84Z" fill="#8db812"/>
<path d="M438.94 692.91L443.34 701.51L434.54 701.51Z" fill="#8db812"/>
<path d="M448.96 685.94L453.36 694.54L444.56 694.54Z" fill="#8db812"/>
<path d="M458.97 680.51L463.37 689.11L454.57 689.11Z" fill="#8db812"/>
<path d="M468.99 667.73L473.39 676.33L464.59 676.33Z" fill="#8db812"/>
<path d="M479.01 499.16L483.41 507.76L474.61 507.76Z" fill="#8db812"/>
<polyline points="166.27,710.98 174.09,709.04 181.91,707.1 189.72,707.1 197.54,707.1 205.36,707.1 213.18,707.1 221,707.1 228.82,707.1 236.64,707.1 244.45,707.1 252.27,707.1 260.09,707.1 267.91,707.1 275.73,707.1 283.55,707.1 291.37,707.1 299.18,707.1 307,707.1 314.82,707.1 322.64,707.1 330.46,707.1 338.28,707.1 346.09,707.1 353.91,707.1 361.73,705.16 369.55,705.16 377.37,705.16 385.19,705.16 393.01,703.23 400.82,703.23 408.64,703.23 416.46,699.35 424.28,699.35 432.1,697.41 439.92,695.48 447.74,690.44 455.55,685.01 463.37,675.33 471.19,672.23 479.01,503.66" fill="none" stroke="#ffd400" stroke-width="0.95" stroke-dasharray="0.95 1.7"/>
<circle cx="166.27" cy="710.98" r="2.75" fill="#ffd400"/>
<circle cx="174.09" cy="709.04" r="2.75" fill="#ffd400"/>
<circle cx="181.91" cy="707.1" r="2.75" fill="#ffd400"/>
<circle cx="189.72" cy="707.1" r="2.75" fill="#ffd400"/>
<circle cx="197.54" cy="707.1" r="2.75" fill="#ffd400"/>
<circle cx="205.36" cy="707.1" r="2.75" fill="#ffd400"/>
<circle cx="213.18" cy="707.1" r="2.75" fill="#ffd400"/>
<circle cx="221" cy="707.1" r="2.75" fill="#ffd400"/>
<circle cx="228.82" cy="707.1" r="2.75" fill="#ffd400"/>
<circle cx="236.64" cy="707.1" r="2.75" fill="#ffd400"/>
<circle cx="244.45" cy="707.1" r="2.75" fill="#ffd400"/>
<circle cx="252.27" cy="707.1" r="2.75" fill="#ffd400"/>
<circle cx="260.09" cy="707.1" r="2.75" fill="#ffd400"/>
<circle cx="267.91" cy="707.1" r="2.75" fill="#ffd400"/>
<circle cx="275.73" cy="707.1" r="2.75" fill="#ffd400"/>
<circle cx="283.55" cy="707.1" r="2.75" fill="#ffd400"/>
<circle cx="291.37" cy="707.1" r="2.75" fill="#ffd400"/>
<circle cx="299.18" cy="707.1" r="2.75" fill="#ffd400"/>
<circle cx="307" cy="707.1" r="2.75" fill="#ffd400"/>
<circle cx="314.82" cy="707.1" r="2.75" fill="#ffd400"/>
<circle cx="322.64" cy="707.1" r="2.75" fill="#ffd400"/>
<circle cx="330.46" cy="707.1" r="2.75" fill="#ffd400"/>
<circle cx="338.28" cy="707.1" r="2.75" fill="#ffd400"/>
<circle cx="346.09" cy="707.1" r="2.75" fill="#ffd400"/>
<circle cx="353.91" cy="707.1" r="2.75" fill="#ffd400"/>
<circle cx="361.73" cy="705.16" r="2.75" fill="#ffd400"/>
<circle cx="369.55" cy="705.16" r="2.75" fill="#ffd400"/>
<circle cx="377.37" cy="705.16" r="2.75" fill="#ffd400"/>
<circle cx="385.19" cy="705.16" r="2.75" fill="#ffd400"/>
<circle cx="393.01" cy="703.23" r="2.75" fill="#ffd400"/>
<circle cx="400.82" cy="703.23" r="2.75" fill="#ffd400"/>
<circle cx="408.64" cy="703.23" r="2.75" fill="#ffd400"/>
<circle cx="416.46" cy="699.35" r="2.75" fill="#ffd400"/>
<circle cx="424.28" cy="699.35" r="2.75" fill="#ffd400"/>
<circle cx="432.1" cy="697.41" r="2.75" fill="#ffd400"/>
<circle cx="439.92" cy="695.48" r="2.75" fill="#ffd400"/>
<circle cx="447.74" cy="690.44" r="2.75" fill="#ffd400"/>
<circle cx="455.55" cy="685.01" r="2.75" fill="#ffd400"/>
<circle cx="463.37" cy="675.33" r="2.75" fill="#ffd400"/>
<circle cx="471.19" cy="672.23" r="2.75" fill="#ffd400"/>
<circle cx="479.01" cy="503.66" r="2.75" fill="#ffd400"/>
<text x="175.3" y="524.6" class="ti" style="font-size:18.15px">Week 156</text>
<text x="88" y="511.6" class="lt">C</text>

<line x1="89.1" y1="766.4" x2="107.8" y2="766.4" stroke="#d9261c" stroke-width="1.6"/>
<rect x="92.4" y="760.4" width="12.4" height="12" fill="#d9261c"/>
<line x1="90.6" y1="787.8" x2="94.7" y2="787.8" stroke="#8db812" stroke-width="1.6"/>
<line x1="106.5" y1="787.8" x2="108.8" y2="787.8" stroke="#8db812" stroke-width="1.6"/>
<path d="M99.6 780.6L106.5 794.6L92.7 794.6Z" fill="#8db812"/>
<rect x="90.2" y="808.5" width="1.5" height="1.5" fill="#ffd400"/>
<rect x="105.2" y="808.5" width="1.5" height="1.5" fill="#ffd400"/>
<circle cx="99.6" cy="809.3" r="4.5" fill="#ffd400"/>
<text x="117.3" y="770.3" class="lg" style="font-size:13.69px">Ixekizumab monotherapy (Ns=36)</text>
<text x="118.4" y="792.0" class="lg" style="font-size:13.66px">Ixekizumab + MTX (Ns=48)</text>
<text x="118.4" y="813.8" class="lg" style="font-size:13.81px">Ixekizumab + any cDMARD (Ns=59)</text>

</svg>
<p class="p" style="top:820px">The ixekizumab + any csDMARD subgroup includes patients receiving MTX.</p>
<p class="p" style="top:865px">Structural progression data were analyzed using linear extrapolation.</p>
<p class="p" style="top:910.7px;word-spacing:0.38px">Ixekizumab monotherapy Week 52 Nx=23, Week 108 Nx=21; Week 156 Nx=18. Ixekizumab + MTX Week 52<br>Nx=32; Week 108=31; Week 156 Nx=29. Ixekizumab + any csDMARD Week 52 Nx=41; Week 108 Nx=40; Week<br>156 Nx=37.</p>
<p class="p" style="top:1023.7px"><i>csDMARDs</i>, conventional disease-modifying antirheumatic drug; <i>mTSS</i>, van der Heijde modified Total Sharpe<br>Score; <i>MTX</i>, methotrexate; <i>Ns,</i> number of patients in treatment subgroup; <i>Nx=</i>number of patients with non-missing<br>data in each subgroup; <i>PsA</i>, psoriatic arthritis.</p>
</body></html>
